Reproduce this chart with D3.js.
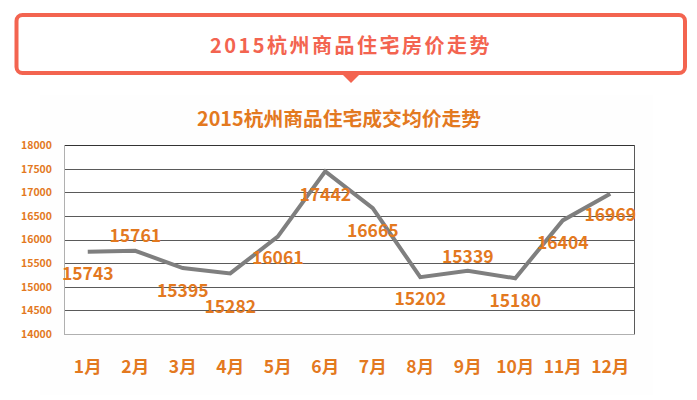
<!DOCTYPE html>
<html><head><meta charset="utf-8">
<script src="https://cdn.jsdelivr.net/npm/d3@7"></script>
<style>html,body{margin:0;padding:0;background:#fff;}svg{display:block;}</style>
</head><body>
<svg id="c" width="697" height="400"></svg>
<script>
const headerTitle = "2015杭州商品住宅房价走势";
const chartTitle = "2015杭州商品住宅成交均价走势";
const months = ["1月","2月","3月","4月","5月","6月","7月","8月","9月","10月","11月","12月"];
const prices = [15743,15761,15395,15282,16061,17442,16665,15202,15339,15180,16404,16969];
const yTicks = [14000,14500,15000,15500,16000,16500,17000,17500,18000];
// label vertical offsets (layout)
const labelDy = [21,-16,21,32,20,22,21,20,-15,21,21,20];

const svg = d3.select("#c");
const font = "'Noto Sans CJK SC','Microsoft YaHei',sans-serif";
const coral = "#f36450", orange = "#e3791f";

// header box
svg.append("rect").attr("x",16.5).attr("y",15).attr("width",668.5).attr("height",58)
  .attr("rx",6).attr("fill","#fff").attr("stroke",coral).attr("stroke-width",4);
svg.append("path").attr("d","M339,71 L363,71 L351,83 Z").attr("fill",coral);
svg.append("text").attr("x",351).attr("y",44).attr("text-anchor","middle")
  .attr("dominant-baseline","central").attr("font-family",font).attr("font-weight","bold")
  .attr("font-size",20).attr("letter-spacing",2.5).attr("fill",coral).text(headerTitle);

// chart panel
svg.append("rect").attr("x",40).attr("y",95).attr("width",613).attr("height",300).attr("fill","#fefefe");

svg.append("text").attr("x",339).attr("y",117).attr("text-anchor","middle")
  .attr("dominant-baseline","central").attr("font-family",font).attr("font-weight","bold")
  .attr("font-size",19.8).attr("fill",orange).text(chartTitle);

const L=64, R=634, T=145, B=334;
const x = d3.scaleBand().domain(months).range([L,R]);
const y = d3.scaleLinear().domain([14000,18000]).range([B,T]);

svg.append("rect").attr("x",L).attr("y",T).attr("width",R-L).attr("height",B-T).attr("fill","#fff");

// gridlines
svg.append("g").selectAll("line").data(yTicks).join("line")
  .attr("x1",L).attr("x2",R).attr("y1",d=>Math.round(y(d))+0.5).attr("y2",d=>Math.round(y(d))+0.5)
  .attr("stroke",d=>d===14000?"#b0b0b0":(d===18000?"#333":"#5a5a5a")).attr("stroke-width",1);
// left axis line and right border
svg.append("line").attr("x1",L+0.5).attr("x2",L+0.5).attr("y1",T).attr("y2",B).attr("stroke","#b0b0b0");
svg.append("line").attr("x1",R+0.5).attr("x2",R+0.5).attr("y1",T).attr("y2",B+0.5).attr("stroke","#5a5a5a");

// y axis labels
const yAxis = d3.axisLeft(y).tickValues(yTicks).tickSize(0).tickPadding(12).tickFormat(d3.format("d"));
const gy = svg.append("g").attr("transform",`translate(${L},0)`).call(yAxis);
gy.select(".domain").remove();
gy.selectAll("text").attr("font-family",font).attr("font-weight","bold").attr("font-size",10.5).attr("fill",orange);

// x axis labels
const xAxis = d3.axisBottom(x).tickSize(0).tickPadding(0);
const gx = svg.append("g").attr("transform",`translate(0,${B})`).call(xAxis);
gx.select(".domain").remove();
gx.selectAll("text").attr("y",31).attr("dy","0").attr("dominant-baseline","central")
  .attr("font-family",font).attr("font-weight","bold").attr("font-size",17.5).attr("fill",orange);

// line
const cx = d => x(d) + x.bandwidth()/2;
const line = d3.line().x((d,i)=>cx(months[i])).y(d=>y(d));
svg.append("path").datum(prices).attr("d",line).attr("fill","none")
  .attr("stroke","#7f7f7f").attr("stroke-width",4).attr("stroke-linejoin","miter");

// data labels
svg.append("g").selectAll("text").data(prices).join("text")
  .attr("x",(d,i)=>cx(months[i])).attr("y",(d,i)=>y(d)+labelDy[i])
  .attr("text-anchor","middle").attr("dominant-baseline","central")
  .attr("font-family",font).attr("font-weight","bold").attr("font-size",17.5).attr("fill",orange)
  .text(d=>d);
</script>
</body></html>
